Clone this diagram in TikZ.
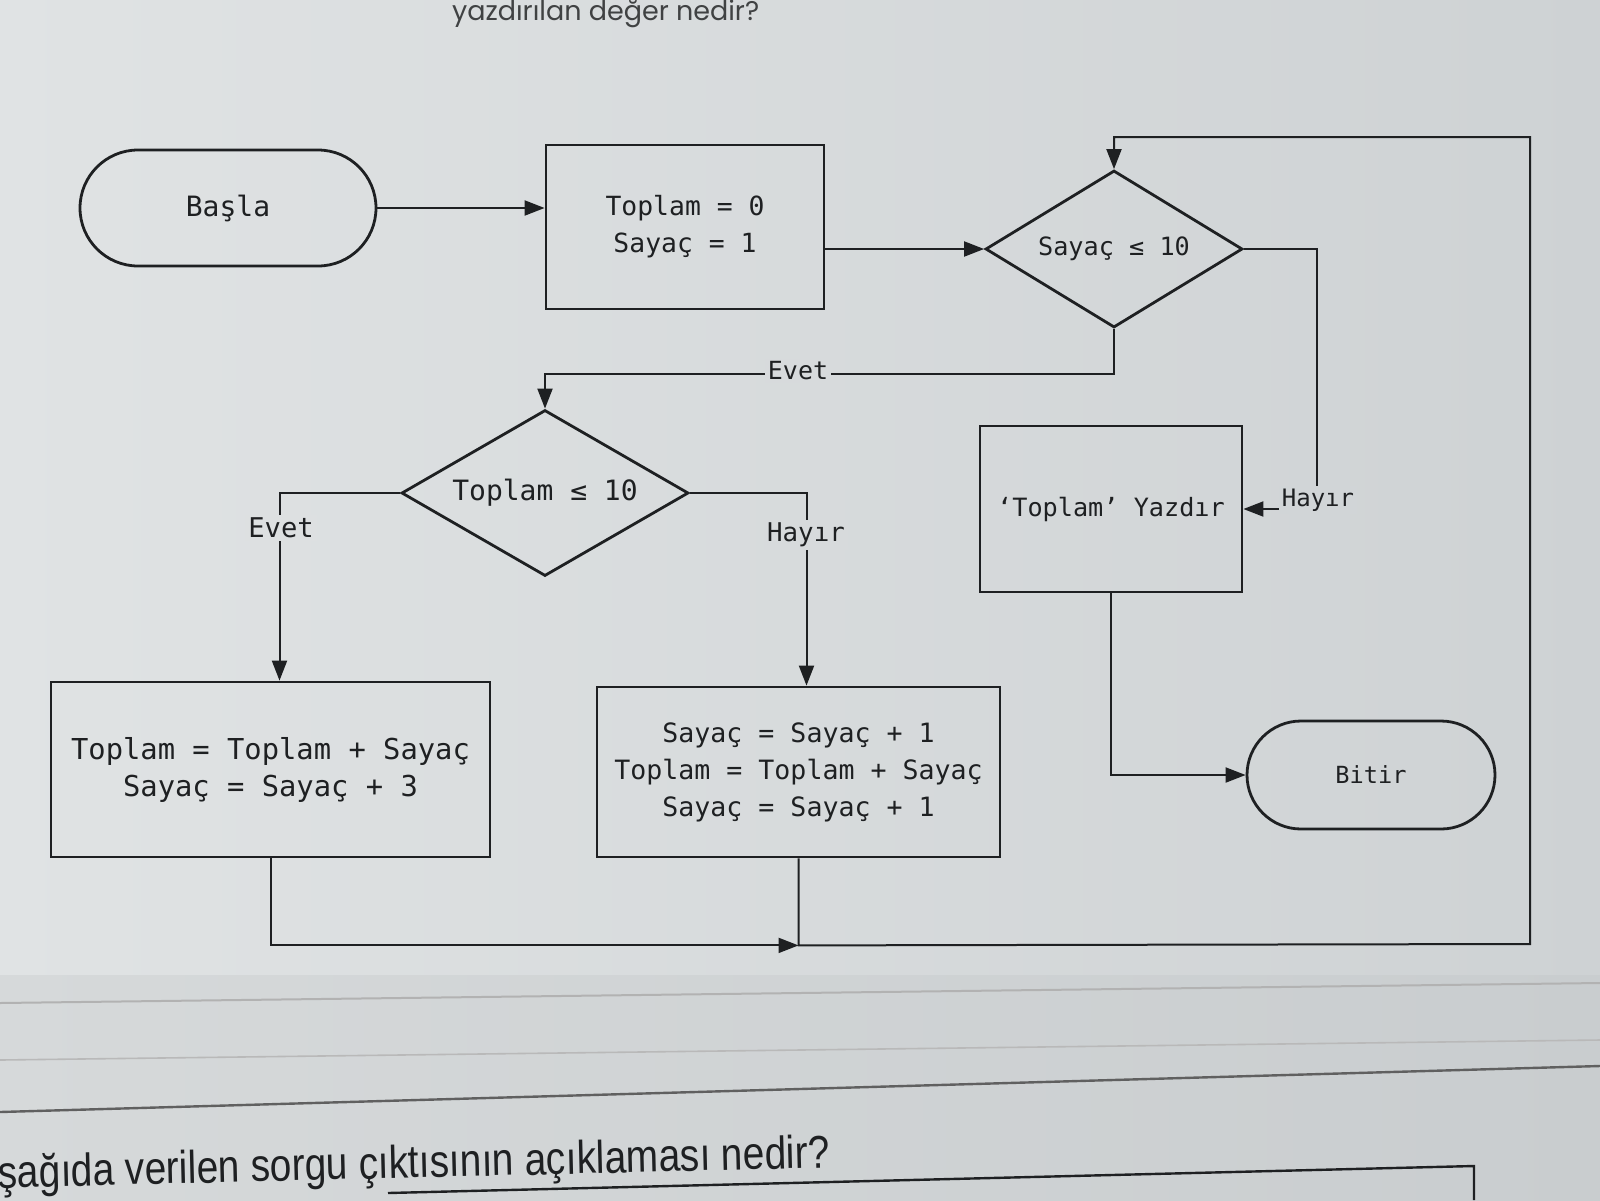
\documentclass[tikz,border=0pt]{standalone}
\usepackage{fontspec}
\setmonofont{DejaVu Sans Mono}
\newfontfamily\qfont{Poppins}
\newfontfamily\bfont[FakeStretch=0.845]{Liberation Sans}
\usetikzlibrary{shapes.geometric,shapes.misc,arrows.meta}
\definecolor{panelL}{HTML}{E0E3E4}
\definecolor{panelR}{HTML}{CED2D4}
\definecolor{lowL}{HTML}{D6D9DA}
\definecolor{lowR}{HTML}{C9CDCF}
\definecolor{ink}{HTML}{1E2022}
\definecolor{bgA}{HTML}{DDE0E1}
\definecolor{bgB}{HTML}{D7DADC}
\definecolor{bgC}{HTML}{D1D5D7}
\newcommand{\fs}[1]{\ttfamily\fontsize{#1}{18.5}\selectfont}
\tikzset{
  shp/.style={draw=ink, line width=1.4pt, inner sep=0pt, align=center,
    font=\fs{14.4}, text=ink},
  procbox/.style={shp, rectangle},
  term/.style={shp, rounded rectangle},
  decis/.style={shp, diamond},
  conn/.style={draw=ink, line width=1pt, -{Triangle[length=10pt,width=7.5pt]}},
  lbl/.style={inner sep=1.5pt, text=ink, font=\fs{13}}
}
\begin{document}
\begin{tikzpicture}[x=0.5pt,y=-0.5pt]
\useasboundingbox (0,0) rectangle (1600,1200);
\begin{scope}
\clip (0,0) rectangle (1600,1200);
% background
\shade[left color=panelL, right color=panelR] (0,0) rectangle (1600,975);
\shade[left color=lowL, right color=lowR] (0,975) rectangle (1600,1200);
\draw[gray!60, line width=1pt] (0,1003) -- (1600,983);
\draw[gray!55, line width=0.8pt] (0,1060) -- (1600,1040);
\draw[gray!75!black, line width=1.2pt] (0,1112) -- (1600,1066);
\draw[ink, line width=1.2pt] (388,1193) -- (1474,1166) -- (1474,1200);
% question texts
\node[anchor=base west, text=ink!85, font=\qfont\fontsize{13.5}{15}\selectfont] (qtop) at (445,20) {yazdırılan değer nedir?};
\node[anchor=base west, text=ink, font=\bfont\fontsize{23}{26}\selectfont, inner sep=0pt, rotate=1.4] (qbot) at (-2,1188) {şağıda verilen sorgu çıktısının açıklaması nedir?};
\end{scope}

% nodes
\node[term, font=\fs{14}, minimum width=148pt, minimum height=58pt] (basla) at (228,208) {Başla};
\node[procbox, font=\fs{13.2}, minimum width=139pt, minimum height=82pt] (init) at (685,227) {Toplam = 0\\Sayaç = 1};
\node[decis, font=\fs{12.6}, aspect=1.64, minimum width=128.5pt, minimum height=78.5pt] (d1) at (1114,249) {Sayaç ≤ 10};
\node[decis, font=\fs{14}, aspect=1.73, minimum width=143.5pt, minimum height=83pt] (d2) at (545,493) {Toplam ≤ 10};
\node[procbox, minimum width=219.5pt, minimum height=87.5pt] (lbox) at (270.5,769.5) {Toplam = Toplam + Sayaç\\Sayaç = Sayaç + 3};
\node[procbox, font=\fs{13.3}, minimum width=201.5pt, minimum height=85pt] (mbox) at (798.5,772) {Sayaç = Sayaç + 1\\Toplam = Toplam + Sayaç\\Sayaç = Sayaç + 1};
\node[procbox, font=\fs{12.6}, minimum width=131pt, minimum height=83pt] (yaz) at (1111,509) {‘Toplam’ Yazdır};
\node[term, font=\fs{11.8}, minimum width=124pt, minimum height=54pt] (bitir) at (1371,775) {Bitir};

% connectors
\draw[conn] (basla.east) -- (basla.east -| init.west);
\draw[conn] (d1.west -| init.east) -- (d1.west);
\draw[conn] (d1.south) -- ++(0,45) -| (d2.north);
\node[lbl, font=\fs{12.5}, fill=bgB] (l1) at (798,371) {Evet};
\draw[conn] (d1.east) -| ([xshift=37pt]yaz.east) -- (yaz.east);
\node[lbl, font=\fs{12}, fill=bgC] (l2) at (1318,500) {Hayır};
\draw[conn] (d2.west) -| ([xshift=4.5pt]lbox.north);
\node[lbl, font=\fs{13.6}, fill=bgA] (l3) at (281,528) {Evet};
\draw[conn] (d2.east) -| ([xshift=4pt]mbox.north);
\node[lbl, font=\fs{12.9}, fill=bgB] (l4) at (806,535) {Hayır};
\path (mbox.south) ++(0,87) coordinate (m);
\coordinate (rb) at (1530,944);
\coordinate (rt) at (1530,137);
\draw[conn] (lbox.south) |- (m);
\draw[conn] (mbox.south) -- (m) -- (rb) -- (rt) -| (d1.north);
\draw[conn] (yaz.south) |- (bitir.west);
\end{tikzpicture}
\end{document}
